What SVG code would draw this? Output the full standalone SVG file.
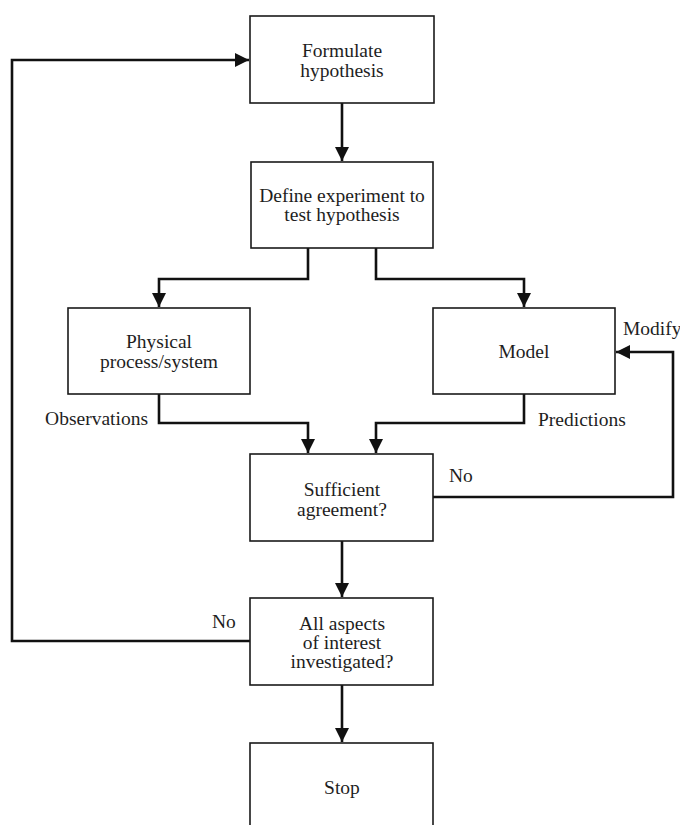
<svg xmlns="http://www.w3.org/2000/svg" width="680" height="825" viewBox="0 0 680 825">
<style>
  .box { fill: #ffffff; stroke: #1a1a1a; stroke-width: 1.6; }
  .t { font-family: "Liberation Serif", "Times New Roman", serif; font-size: 19.5px; fill: #1e1e1e; text-anchor: middle; }
  .lbl { font-family: "Liberation Serif", "Times New Roman", serif; font-size: 19.5px; fill: #1e1e1e; }
  .c { fill: none; stroke: #111111; stroke-width: 2.6; stroke-linejoin: miter; }
</style>
<defs>
  <marker id="ah" markerUnits="userSpaceOnUse" markerWidth="16" markerHeight="14" refX="14" refY="7" orient="auto">
    <path d="M0,0 L14,7 L0,14 Z" fill="#111111"/>
  </marker>
</defs>
<rect width="680" height="825" fill="#ffffff"/>

<g id="connectors">
  <path class="c" d="M342,103 V161" marker-end="url(#ah)"/>
  <path class="c" d="M308,248 V279 H159 V307" marker-end="url(#ah)"/>
  <path class="c" d="M376,248 V279 H524 V307" marker-end="url(#ah)"/>
  <path class="c" d="M159,394 V423 H308 V453" marker-end="url(#ah)"/>
  <path class="c" d="M524,394 V423 H376 V453" marker-end="url(#ah)"/>
  <path class="c" d="M433,497 H673 V352 H616" marker-end="url(#ah)"/>
  <path class="c" d="M342,541 V597" marker-end="url(#ah)"/>
  <path class="c" d="M342,685 V742" marker-end="url(#ah)"/>
  <path class="c" d="M250,641 H12 V60 H249" marker-end="url(#ah)"/>
</g>

<g id="labels">
  <text class="lbl" x="148" y="425" text-anchor="end">Observations</text>
  <text class="lbl" x="538" y="426">Predictions</text>
  <text class="lbl" x="623" y="335">Modify</text>
  <text class="lbl" x="449" y="482">No</text>
  <text class="lbl" x="212" y="628">No</text>
</g>

<g id="formulate">
  <rect class="box" x="250" y="16" width="184" height="87"/>
  <text class="t" x="342" y="57">Formulate</text>
  <text class="t" x="342" y="77">hypothesis</text>
</g>

<g id="define">
  <rect class="box" x="251" y="162" width="182" height="86"/>
  <text class="t" x="342" y="202">Define experiment to</text>
  <text class="t" x="342" y="221">test hypothesis</text>
</g>

<g id="physical">
  <rect class="box" x="68" y="308" width="182" height="86"/>
  <text class="t" x="159" y="348">Physical</text>
  <text class="t" x="159" y="368">process/system</text>
</g>

<g id="model">
  <rect class="box" x="433" y="308" width="182" height="86"/>
  <text class="t" x="524" y="358">Model</text>
</g>

<g id="sufficient">
  <rect class="box" x="250" y="454" width="183" height="87"/>
  <text class="t" x="342" y="496">Sufficient</text>
  <text class="t" x="342" y="516">agreement?</text>
</g>

<g id="aspects">
  <rect class="box" x="250" y="598" width="183" height="87"/>
  <text class="t" x="342" y="630">All aspects</text>
  <text class="t" x="342" y="649">of interest</text>
  <text class="t" x="342" y="668">investigated?</text>
</g>

<g id="stop">
  <rect class="box" x="250" y="743" width="183" height="100"/>
  <text class="t" x="342" y="794">Stop</text>
</g>
</svg>
